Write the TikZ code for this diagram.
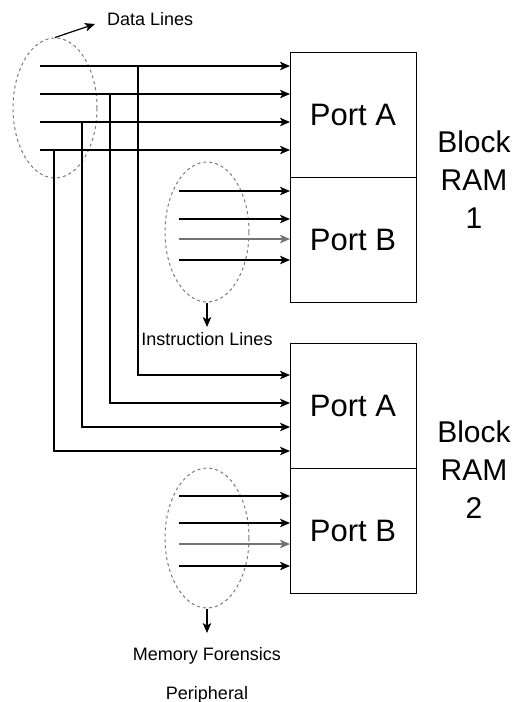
\documentclass[tikz,border=0pt]{standalone}
\usepackage{fontspec}
\setmainfont{Liberation Sans}
\usetikzlibrary{arrows.meta,positioning,shapes.geometric}
\definecolor{bundlegray}{HTML}{7A7A7A}

\begin{document}
\begin{tikzpicture}[x=1pt,y=-1pt,
  portbox/.style={draw,line width=1pt,minimum width=126pt,minimum height=125pt,
    inner sep=0pt,outer sep=0pt,font=\fontsize{31}{37}\selectfont},
  ramlabel/.style={align=center,font=\fontsize{30}{38}\selectfont},
  bundle/.style={draw=bundlegray,dash pattern=on 3pt off 3pt,line width=1pt,
    ellipse,minimum width=84pt,minimum height=140pt,inner sep=0pt},
  smalltext/.style={font=\fontsize{18}{22}\selectfont,inner sep=0pt},
  sig/.style={line width=1.2pt,-{Stealth[length=10pt,width=8.5pt,inset=2.5pt]}},
  dimsig/.style={sig,draw=black!55,fill=black!55,line width=1.5pt}]
  \useasboundingbox (0,0) rectangle (514,702);

  % Block RAM 1
  \node[portbox] (pa1) at (353,114.5) {Port A};
  \node[portbox,below=0pt of pa1] (pb1) {Port B};
  \node[ramlabel] (ram1) at (474,180) {Block\\RAM\\1};
  % Block RAM 2
  \node[portbox] (pa2) at (353,405.5) {Port A};
  \node[portbox,below=0pt of pa2] (pb2) {Port B};
  \node[ramlabel] (ram2) at (474,470) {Block\\RAM\\2};

  % Line bundles
  \node[bundle] (dell) at (55,108) {};
  \node[bundle] (iell) at (207,232) {};
  \node[bundle] (mell) at (207,538) {};

  % Labels
  \node[smalltext,anchor=base west] (dlbl) at (107,25) {Data Lines};
  \node[smalltext,anchor=base] (ilbl) at (207,345) {Instruction Lines};
  \node[smalltext,anchor=north,align=center,font=\fontsize{18}{39}\selectfont]
    (mlbl) at (207,647) {Memory Forensics\\Peripheral};
  \coordinate (dtip) at (95,24);
  \coordinate (itip) at (207,327);
  \coordinate (mtip) at (207,633);
  \draw[sig] (dell.north) -- (dtip);
  \draw[sig] (iell.south) -- (itip);
  \draw[sig] (mell.south) -- (mtip);

  % Data lines into Port A of block 1
  \foreach \y [count=\i] in {66,94,122,150}
    \coordinate (d\i) at (40,\y);
  \foreach \i in {1,...,4}
    \draw[sig] (d\i) -- (d\i -| pa1.west);
  % Taps down to Port A of block 2
  \foreach \i/\x/\ry in {1/138/375,2/110/403,3/82/427,4/54/451}
    \draw[sig] (d\i -| \x,0) |- (pa2.west |- 0,\ry);

  % Instruction lines into Port B of block 1
  \foreach \y [count=\i] in {191,219,239,260}
    \coordinate (n\i) at (179,\y);
  \foreach \i in {1,2,4}
    \draw[sig] (n\i) -- (n\i -| pb1.west);
  \draw[dimsig] (n3) -- (n3 -| pb1.west);

  % Peripheral lines into Port B of block 2
  \foreach \y [count=\i] in {496,523,544,566}
    \coordinate (m\i) at (179,\y);
  \foreach \i in {1,2,4}
    \draw[sig] (m\i) -- (m\i -| pb2.west);
  \draw[dimsig] (m3) -- (m3 -| pb2.west);
\end{tikzpicture}
\end{document}
